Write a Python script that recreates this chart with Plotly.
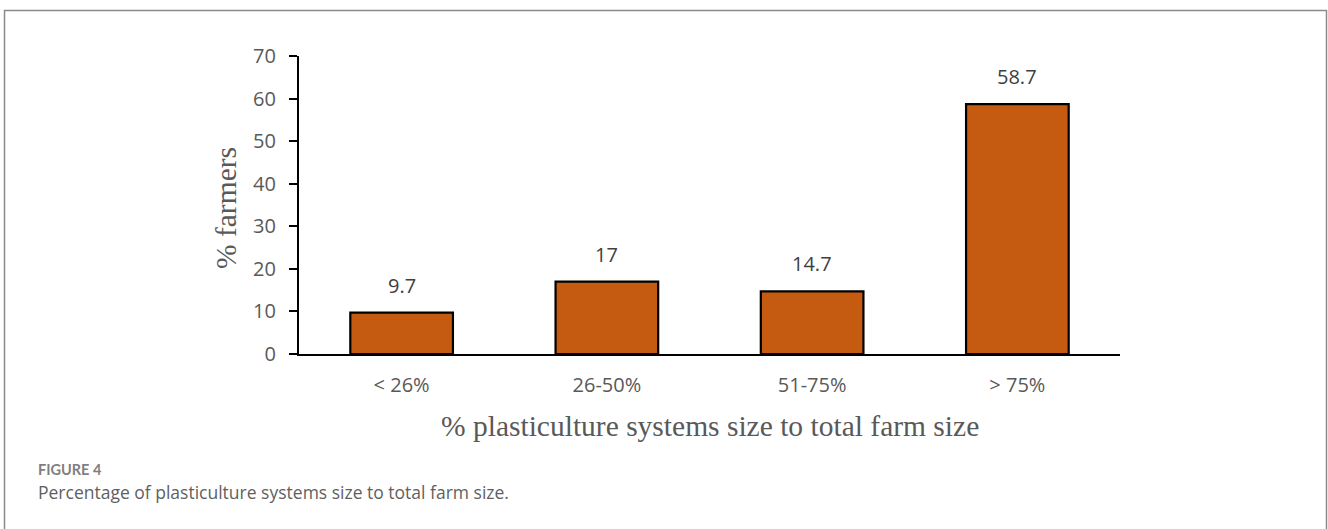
import plotly.graph_objects as go

# Share of farmers by plasticulture-system size relative to total farm size
categories = ["< 26%", "26-50%", "51-75%", "> 75%"]
farmers_pct = [9.7, 17, 14.7, 58.7]
y_ticks = [0, 10, 20, 30, 40, 50, 60, 70]

W, H = 1328, 529
L, R, T, B = 299, 1120, 56, 354  # plot area in pixels

def px_x(p):
    return (p - L) / (R - L)

def px_y(p):
    return (B - p) / (B - T)

TICK_FONT = dict(family="Open Sans", size=20, color="#595959")
TITLE_FONT = dict(family="Liberation Serif", size=29.5, color="#595959")

fig = go.Figure()
fig.add_trace(go.Bar(
    x=categories,
    y=farmers_pct,
    width=0.5,
    marker=dict(color="#C55A11", line=dict(color="#000000", width=2.2)),
    hoverinfo="x+y",
))

# Value labels above each bar
for c, v in zip(categories, farmers_pct):
    fig.add_annotation(
        x=c, y=v, text=f"{v:g}", showarrow=False,
        yanchor="bottom", yshift=12,
        font=dict(family="Open Sans", size=20, color="#404040"),
    )

# Axis titles
fig.add_annotation(xref="paper", yref="paper", x=0.5, y=px_y(426),
                   xanchor="center", yanchor="middle", showarrow=False,
                   text="% plasticulture systems size to total farm size",
                   font=TITLE_FONT)
fig.add_annotation(xref="paper", yref="paper", x=px_x(226), y=px_y(208),
                   xanchor="center", yanchor="middle", showarrow=False,
                   textangle=-90, text="% farmers", font=TITLE_FONT)

# Outer figure frame
fig.add_shape(type="rect", xref="paper", yref="paper",
              x0=px_x(4.5), x1=px_x(1326.5), y0=px_y(545), y1=px_y(10.5),
              line=dict(color="#8a8a8a", width=1.5), fillcolor="rgba(0,0,0,0)",
              layer="below")

# Caption
fig.add_annotation(xref="paper", yref="paper", x=px_x(37), y=px_y(469),
                   xanchor="left", yanchor="middle", showarrow=False,
                   text="<b>FIGURE 4</b>", borderpad=0,
                   font=dict(family="Lato", size=14.5, color="#7f7f7f"))
fig.add_annotation(xref="paper", yref="paper", x=px_x(37), y=px_y(492),
                   xanchor="left", yanchor="middle", showarrow=False,
                   text="Percentage of plasticulture systems size to total farm size.",
                   borderpad=0,
                   font=dict(family="Open Sans", size=17.5, color="#5f5f5f"))

fig.update_layout(
    width=W, height=H,
    margin=dict(l=L, r=W - R, t=T, b=H - B, pad=0),
    paper_bgcolor="white", plot_bgcolor="white",
    showlegend=False,
    bargap=0.5,
    xaxis=dict(
        showline=True, linecolor="#000000", linewidth=2.2,
        ticks="", showgrid=False,
        tickfont=TICK_FONT,
        ticklabelstandoff=12,
    ),
    yaxis=dict(
        range=[0, 70], tickvals=y_ticks,
        showline=True, linecolor="#000000", linewidth=2.2,
        ticks="outside", ticklen=8, tickwidth=2.2, tickcolor="#000000",
        showgrid=False, zeroline=False,
        tickfont=TICK_FONT,
        ticklabelstandoff=9,
    ),
)

fig.write_html("out.html")
